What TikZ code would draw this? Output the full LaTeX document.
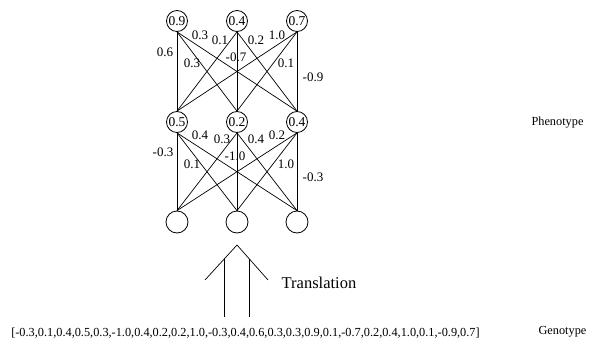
\documentclass[tikz,border=0pt]{standalone}
\usepackage{fontspec}
\setmainfont{Liberation Serif}
\begin{document}
\begin{tikzpicture}[x=1pt,y=-1pt,
  neuron/.style={circle,draw,line width=0.8pt,minimum size=21pt,inner sep=0pt,font=\fontsize{13.5}{15}\selectfont},
  inneuron/.style={circle,draw,line width=0.8pt,minimum size=22pt,inner sep=0pt},
  wlabel/.style={inner sep=0pt,font=\fontsize{13}{15}\selectfont},
  conn/.style={line width=0.7pt},
  big/.style={inner sep=0pt,font=\fontsize{16.5}{19}\selectfont},
  side/.style={inner sep=0pt,font=\fontsize{12.3}{15}\selectfont}]
\useasboundingbox (0,0) rectangle (597,348);
% top layer
\node[neuron] (t1) at (177,21) {0.9};
\node[neuron] (t2) at (237,21) {0.4};
\node[neuron] (t3) at (297,21) {0.7};
% middle layer
\node[neuron] (m1) at (177,122) {0.5};
\node[neuron] (m2) at (237,122) {0.2};
\node[neuron] (m3) at (297,122) {0.4};
% input layer
\node[inneuron] (b1) at (177,222) {};
\node[inneuron] (b2) at (237,222) {};
\node[inneuron] (b3) at (297,222) {};
% connections top-middle
\foreach \t in {t1,t2,t3}{\foreach \m in {m1,m2,m3}{\draw[conn] (\t.south) -- (\m.north);}}
% connections middle-bottom
\foreach \m in {m1,m2,m3}{\foreach \b in {b1,b2,b3}{\draw[conn] (\m.south) -- (\b.north);}}
% weight labels top
\node[wlabel] (w1) at (200,35) {0.3};
\node[wlabel] (w2) at (220,40) {0.1};
\node[wlabel] (w3) at (256,40) {0.2};
\node[wlabel] (w4) at (277,35) {1.0};
\node[wlabel] (w5) at (165,52) {0.6};
\node[wlabel] (w6) at (192,63) {0.3};
\node[wlabel] (w7) at (236,57) {-0.7};
\node[wlabel] (w8) at (286,63) {0.1};
\node[wlabel] (w9) at (313,77) {-0.9};
% weight labels bottom
\node[wlabel] (v1) at (200,135) {0.4};
\node[wlabel] (v2) at (222,139) {0.3};
\node[wlabel] (v3) at (256,139) {0.4};
\node[wlabel] (v4) at (277,135) {0.2};
\node[wlabel] (v5) at (163,152) {-0.3};
\node[wlabel] (v6) at (192,164) {0.1};
\node[wlabel] (v7) at (235,156) {-1.0};
\node[wlabel] (v8) at (286,164) {1.0};
\node[wlabel] (v9) at (313,177) {-0.3};
% translation arrow
\coordinate (tip) at (237,245);
\coordinate (wl) at (205,280);
\coordinate (wr) at (268,280);
\coordinate (s1t) at (224,259);
\coordinate (s1b) at (224,317);
\coordinate (s2t) at (249,259);
\coordinate (s2b) at (249,317);
\draw[conn] (wl) -- (tip) -- (wr);
\draw[conn] (s1t) -- (s1b);
\draw[conn] (s2t) -- (s2b);
\node[big] (tr) at (319,283) {Translation};
% texts
\node[side] (geno) at (245.5,333) {[-0.3,0.1,0.4,0.5,0.3,-1.0,0.4,0.2,0.2,1.0,-0.3,0.4,0.6,0.3,0.3,0.9,0.1,-0.7,0.2,0.4,1.0,0.1,-0.9,0.7]};
\node[side] (gl) at (562.5,332) {Genotype};
\node[side] (pl) at (557.5,123) {Phenotype};
\end{tikzpicture}
\end{document}
